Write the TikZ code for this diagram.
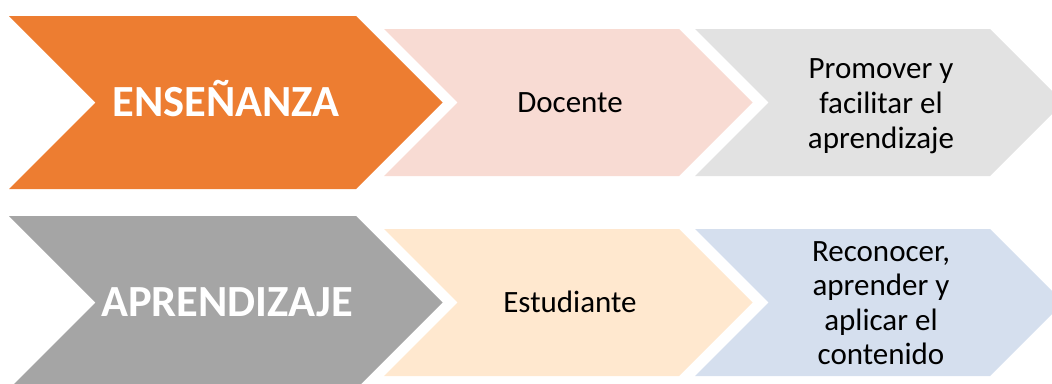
\documentclass[tikz,border=0pt]{standalone}
\usepackage{fontspec}
\setmainfont{Carlito}
\usepackage{tikz}

\definecolor{naranja}{HTML}{ED7D31}
\definecolor{rosa}{HTML}{F8DBD3}
\definecolor{grisclaro}{HTML}{E2E2E2}
\definecolor{gris}{HTML}{A5A5A5}
\definecolor{melocoton}{HTML}{FFE8CF}
\definecolor{azulclaro}{HTML}{D5DFEE}

\begin{document}
\begin{tikzpicture}[x=1pt,y=-1pt,
    titulo/.style={font=\fontsize{44.5}{53}\selectfont\bfseries,text=white,anchor=base},
    texto/.style={font=\fontsize{31}{35}\selectfont,align=center}]
        \useasboundingbox (0,0) rectangle (1052,383);
        \clip (0,0) rectangle (1052,383);

        % fila de la ensenanza
        \fill[naranja] (9,16) -- (356,16) -- (442.5,102.5) -- (356,189) -- (9,189) -- (95.5,102.5) -- cycle;
        \fill[rosa] (384,29) -- (679,29) -- (752.5,102.5) -- (679,176) -- (384,176) -- (457.5,102.5) -- cycle;
        \fill[grisclaro] (695,29) -- (990,29) -- (1063.5,102.5) -- (990,176) -- (695,176) -- (768.5,102.5) -- cycle;

        \node[titulo] (ensenanza) at (226,116) {ENSEÑANZA};
        \node[texto,anchor=base] (docente) at (570,112) {Docente};
        \node[texto] (promover) at (881,106) {Promover y\\facilitar el\\aprendizaje};

        % fila del aprendizaje
        \fill[gris] (9,216) -- (356,216) -- (442.5,302.5) -- (356,389) -- (9,389) -- (95.5,302.5) -- cycle;
        \fill[melocoton] (384,229) -- (679,229) -- (752.5,302.5) -- (679,376) -- (384,376) -- (457.5,302.5) -- cycle;
        \fill[azulclaro] (695,229) -- (990,229) -- (1063.5,302.5) -- (990,376) -- (695,376) -- (768.5,302.5) -- cycle;

        \node[titulo] (aprendizaje) at (227,316) {APRENDIZAJE};
        \node[texto,anchor=base] (estudiante) at (570,312) {Estudiante};
        \node[texto,font=\fontsize{31}{34.5}\selectfont] (reconocer) at (881,303) {Reconocer,\\aprender y\\aplicar el\\contenido};
    \end{tikzpicture}
\end{document}
